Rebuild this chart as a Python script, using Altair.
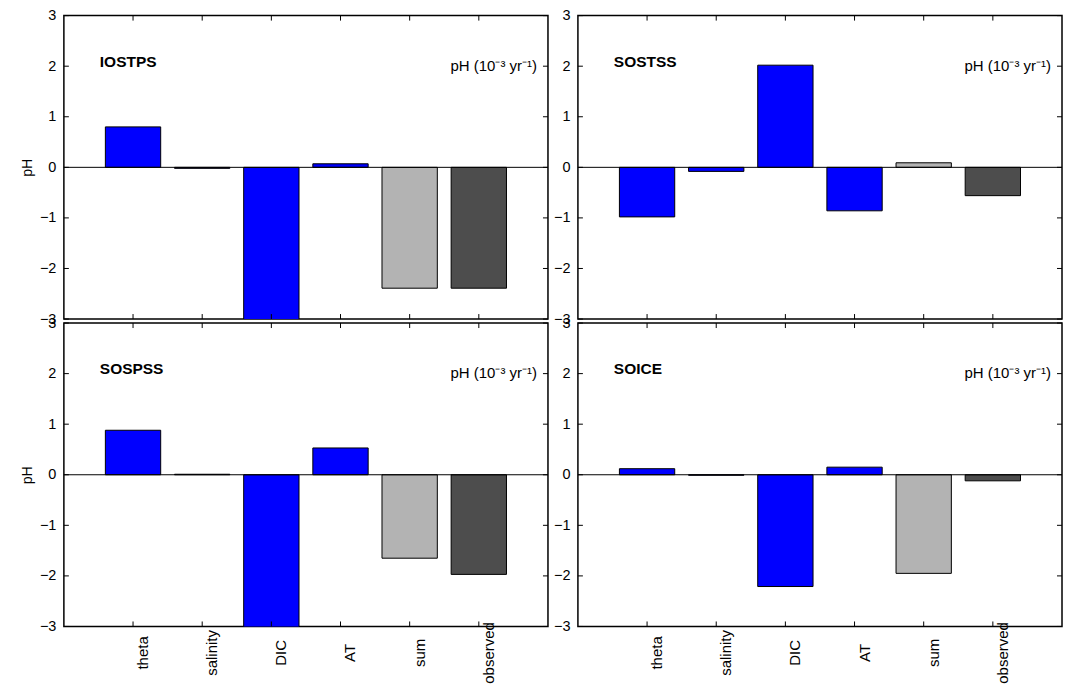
import altair as alt
import pandas as pd

categories = ["theta", "salinity", "DIC", "AT", "sum", "observed"]
panel_names = ["IOSTPS", "SOSTSS", "SOSPSS", "SOICE"]
iostps = [0.80, -0.02, -3.4, 0.07, -2.39, -2.39]
sostss = [-0.98, -0.08, 2.02, -0.86, 0.09, -0.56]
sospss = [0.88, 0.01, -3.4, 0.53, -1.65, -1.97]
soice = [0.12, -0.01, -2.21, 0.15, -1.95, -0.12]
bar_colors = ["#0000FF", "#0000FF", "#0000FF", "#0000FF", "#B3B3B3", "#4D4D4D"]
y_ticks = [-3, -2, -1, 0, 1, 2, 3]
unit_label = "pH (10⁻³ yr⁻¹)"
y_title = "pH"

W, H = 485, 304
FONT = "Liberation Sans"
TL = 5  # inward tick length


def panel(name, values, show_x_labels, show_y_title):
    df = pd.DataFrame({"cat": categories, "value": values})
    df_cat = pd.DataFrame({"cat": categories})
    df_ticks = pd.DataFrame({"value": y_ticks})

    xscale = alt.Scale(domain=categories, paddingInner=0.2, paddingOuter=0.6)
    yscale = alt.Scale(domain=[-3, 3], nice=False)

    if show_x_labels:
        xaxis = alt.Axis(title=None, labelAngle=270, labelAlign="center",
                         labelBaseline="middle", labelPadding=26, labelOffset=10,
                         ticks=False, tickSize=0, domain=False, grid=False,
                         labelFontSize=15, labelColor="black", labelFont=FONT)
    else:
        xaxis = None

    yaxis = alt.Axis(values=y_ticks, ticks=False, tickSize=0, domain=False, grid=False,
                     labelPadding=8, labelFontSize=14.5, labelColor="black", labelFont=FONT,
                     title=y_title if show_y_title else None, titleFontSize=14,
                     titleFontWeight="normal", titleColor="black", titleFont=FONT,
                     titlePadding=5)

    def X():
        return alt.X("cat:N", sort=categories, scale=xscale, axis=xaxis)

    def Y():
        return alt.Y("value:Q", scale=yscale, axis=yaxis)

    bars = alt.Chart(df).mark_bar(stroke="black", strokeWidth=1, clip=True).encode(
        x=X(), y=Y(), y2=alt.datum(0),
        color=alt.Color("cat:N", scale=alt.Scale(domain=categories, range=bar_colors), legend=None),
    )

    ytick_l = alt.Chart(df_ticks).mark_rule(color="black", strokeWidth=1).encode(
        y=Y(), x=alt.value(0), x2=alt.value(TL))
    ytick_r = alt.Chart(df_ticks).mark_rule(color="black", strokeWidth=1).encode(
        y=Y(), x=alt.value(W - TL), x2=alt.value(W))
    xtick_b = alt.Chart(df_cat).mark_rule(color="black", strokeWidth=1).encode(
        x=X(), y=alt.value(H - TL), y2=alt.value(H))
    xtick_t = alt.Chart(df_cat).mark_rule(color="black", strokeWidth=1).encode(
        x=X(), y=alt.value(0), y2=alt.value(TL))

    zero = alt.Chart(pd.DataFrame({"value": [0]})).mark_rule(color="black", strokeWidth=1).encode(
        y=Y())

    title = alt.Chart(pd.DataFrame({"label": [name]})).mark_text(
        align="left", baseline="alphabetic", fontWeight="bold", fontSize=15.5,
        font=FONT, color="black").encode(
        x=alt.value(36), y=alt.value(51), text="label:N")

    unit = alt.Chart(pd.DataFrame({"label": [unit_label]})).mark_text(
        align="right", baseline="alphabetic", fontSize=15, font=FONT, color="black").encode(
        x=alt.value(W - 11), y=alt.value(55), text="label:N")

    return alt.layer(bars, xtick_b, xtick_t, ytick_l, ytick_r, zero, title, unit).properties(
        width=W, height=H)


p1 = panel(panel_names[0], iostps, False, True)
p2 = panel(panel_names[1], sostss, False, False)
p3 = panel(panel_names[2], sospss, True, True)
p4 = panel(panel_names[3], soice, True, False)

chart = alt.concat(p1, p2, p3, p4, columns=2, spacing={"row": 4, "column": 30},
                   bounds="flush").properties(
    padding={"left": 19, "top": 6, "right": 1, "bottom": 5},
    background="white",
).configure_view(stroke="black", strokeWidth=1.5)

chart.save("out.html", embed_options={"renderer": "svg", "actions": False})
